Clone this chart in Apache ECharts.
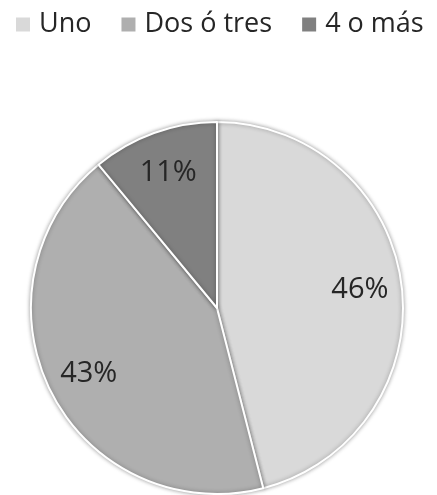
<!DOCTYPE html>
<html>
<head>
<meta charset="utf-8">
<script src="https://cdn.jsdelivr.net/npm/echarts@6/dist/echarts.min.js"></script>
<style>
html,body{margin:0;padding:0;background:#fff;}
#chart{width:437px;height:495px;}
</style>
</head>
<body>
<div id="chart"></div>
<script>
const categories = ['Uno', 'Dos ó tres', '4 o más'];
const values = [46, 43, 11];
const colors = ['#d9d9d9', '#afafaf', '#808080'];

const data = categories.map((name, i) => ({ name: name, value: values[i], itemStyle: { color: colors[i] } }));

const chart = echarts.init(document.getElementById('chart'), null, { renderer: 'canvas' });
chart.setOption({
  animation: false,
  backgroundColor: '#ffffff',
  legend: {
    data: categories,
    left: 9,
    top: 6,
    itemWidth: 16,
    itemHeight: 16,
    itemGap: 28,
    icon: 'rect',
    textStyle: { fontFamily: 'Open Sans', fontSize: 27, color: '#262626', padding: [0, 0, 0, 3] }
  },
  series: [
    {
      type: 'pie',
      center: [217, 308],
      radius: [0, 186],
      startAngle: 90,
      clockwise: true,
      silent: true,
      label: { show: false },
      labelLine: { show: false },
      itemStyle: { borderColor: '#ffffff', borderWidth: 2, shadowBlur: 4, shadowColor: 'rgba(0,0,0,0.35)' },
      data: data
    },
    {
      type: 'pie',
      center: [217, 308],
      radius: [96, 186],
      startAngle: 90,
      clockwise: true,
      silent: true,
      legendHoverLink: false,
      itemStyle: { color: 'rgba(0,0,0,0)', borderWidth: 0 },
      label: {
        show: true,
        position: 'inside',
        formatter: p => p.value + '%',
        fontFamily: 'Open Sans',
        fontSize: 29,
        color: '#262626'
      },
      labelLine: { show: false },
      data: categories.map((name, i) => ({ name: name, value: values[i] }))
    }
  ]
});
</script>
</body>
</html>
